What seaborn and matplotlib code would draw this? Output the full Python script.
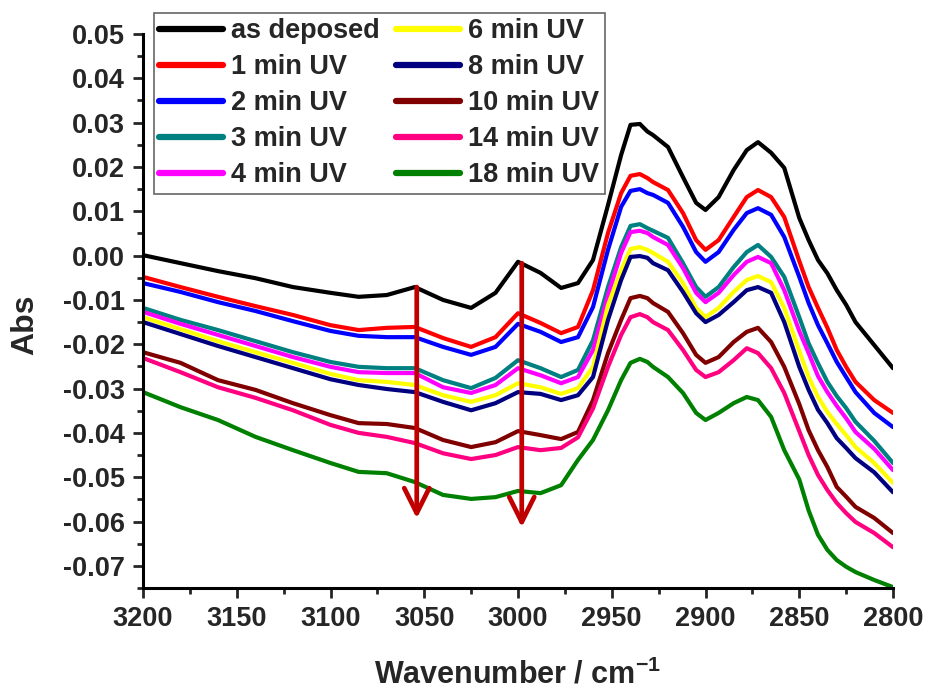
import matplotlib
matplotlib.use("Agg")
import matplotlib.pyplot as plt
import seaborn as sns
import pandas as pd
from matplotlib.ticker import MultipleLocator, FormatStrFormatter

wavenumber = [3200, 3180, 3160, 3140, 3120, 3100, 3085, 3070, 3055, 3040, 3025, 3012, 3000,
              2988, 2977, 2968, 2960, 2952, 2945, 2940, 2935, 2931, 2928, 2920, 2912, 2905,
              2900, 2893, 2885, 2878, 2872, 2865, 2858, 2850, 2845, 2840, 2835, 2830, 2825,
              2820, 2810, 2800]

as_deposed = [0.0001, -0.0017, -0.0035, -0.0051, -0.0071, -0.0084, -0.0093, -0.0089, -0.0071, -0.0100,
              -0.0118, -0.0084, -0.0014, -0.0039, -0.0073, -0.0062, -0.0010, 0.0114, 0.0227, 0.0295,
              0.0297, 0.0280, 0.0272, 0.0245, 0.0177, 0.0119, 0.0103, 0.0132, 0.0193, 0.0238,
              0.0256, 0.0232, 0.0198, 0.0085, 0.0035, -0.0010, -0.0040, -0.0078, -0.0111, -0.0150,
              -0.0202, -0.0254]
uv_1 = [-0.0048, -0.0071, -0.0093, -0.0114, -0.0134, -0.0157, -0.0168, -0.0163, -0.0161, -0.0186,
        -0.0206, -0.0184, -0.0130, -0.0152, -0.0175, -0.0161, -0.0078, 0.0051, 0.0141, 0.0180,
        0.0184, 0.0175, 0.0166, 0.0148, 0.0096, 0.0035, 0.0013, 0.0035, 0.0087, 0.0132,
        0.0148, 0.0132, 0.0087, -0.0012, -0.0071, -0.0118, -0.0163, -0.0213, -0.0251, -0.0285,
        -0.0326, -0.0355]
uv_2 = [-0.0062, -0.0082, -0.0105, -0.0125, -0.0148, -0.0170, -0.0181, -0.0184, -0.0184, -0.0206,
        -0.0224, -0.0206, -0.0154, -0.0172, -0.0195, -0.0184, -0.0116, 0.0013, 0.0110, 0.0146,
        0.0150, 0.0141, 0.0137, 0.0119, 0.0065, 0.0008, -0.0014, 0.0008, 0.0058, 0.0096,
        0.0107, 0.0092, 0.0042, -0.0048, -0.0107, -0.0157, -0.0198, -0.0240, -0.0274, -0.0308,
        -0.0355, -0.0387]
uv_3 = [-0.0118, -0.0145, -0.0168, -0.0193, -0.0218, -0.0240, -0.0251, -0.0254, -0.0254, -0.0281,
        -0.0299, -0.0276, -0.0236, -0.0254, -0.0274, -0.0258, -0.0191, -0.0071, 0.0019, 0.0067,
        0.0071, 0.0062, 0.0056, 0.0040, -0.0017, -0.0071, -0.0093, -0.0071, -0.0026, 0.0008,
        0.0024, -0.0003, -0.0048, -0.0139, -0.0198, -0.0243, -0.0285, -0.0317, -0.0344, -0.0375,
        -0.0418, -0.0468]
uv_4 = [-0.0127, -0.0154, -0.0179, -0.0204, -0.0229, -0.0251, -0.0263, -0.0265, -0.0265, -0.0297,
        -0.0310, -0.0292, -0.0254, -0.0270, -0.0288, -0.0274, -0.0213, -0.0089, 0.0006, 0.0053,
        0.0056, 0.0051, 0.0042, 0.0024, -0.0028, -0.0084, -0.0105, -0.0084, -0.0044, -0.0014,
        -0.0003, -0.0017, -0.0078, -0.0170, -0.0220, -0.0272, -0.0308, -0.0339, -0.0367, -0.0398,
        -0.0436, -0.0484]
uv_6 = [-0.0139, -0.0166, -0.0193, -0.0218, -0.0242, -0.0267, -0.0281, -0.0285, -0.0292, -0.0315,
        -0.0330, -0.0315, -0.0288, -0.0297, -0.0312, -0.0299, -0.0251, -0.0112, -0.0033, 0.0015,
        0.0019, 0.0013, 0.0006, -0.0014, -0.0062, -0.0118, -0.0139, -0.0118, -0.0082, -0.0055,
        -0.0046, -0.0060, -0.0118, -0.0215, -0.0274, -0.0319, -0.0353, -0.0380, -0.0405, -0.0432,
        -0.0468, -0.0513]
uv_8 = [-0.0150, -0.0177, -0.0204, -0.0229, -0.0254, -0.0279, -0.0292, -0.0301, -0.0308, -0.0330,
        -0.0349, -0.0333, -0.0308, -0.0312, -0.0326, -0.0315, -0.0274, -0.0145, -0.0055, -0.0003,
        -0.0001, -0.0005, -0.0017, -0.0033, -0.0082, -0.0130, -0.0150, -0.0134, -0.0105, -0.0078,
        -0.0071, -0.0084, -0.0150, -0.0251, -0.0303, -0.0348, -0.0378, -0.0412, -0.0434, -0.0457,
        -0.0489, -0.0534]
uv_10 = [-0.0218, -0.0242, -0.0281, -0.0303, -0.0333, -0.0360, -0.0378, -0.0380, -0.0389, -0.0416,
         -0.0432, -0.0421, -0.0396, -0.0405, -0.0414, -0.0398, -0.0326, -0.0220, -0.0145, -0.0096,
         -0.0091, -0.0096, -0.0107, -0.0127, -0.0175, -0.0224, -0.0242, -0.0229, -0.0195, -0.0172,
         -0.0163, -0.0195, -0.0251, -0.0335, -0.0394, -0.0439, -0.0477, -0.0522, -0.0544, -0.0567,
         -0.0592, -0.0626]
uv_14 = [-0.0231, -0.0263, -0.0297, -0.0321, -0.0349, -0.0382, -0.0400, -0.0409, -0.0423, -0.0446,
         -0.0459, -0.0450, -0.0432, -0.0439, -0.0434, -0.0410, -0.0345, -0.0251, -0.0179, -0.0139,
         -0.0132, -0.0139, -0.0150, -0.0168, -0.0213, -0.0258, -0.0274, -0.0263, -0.0236, -0.0209,
         -0.0220, -0.0254, -0.0310, -0.0396, -0.0450, -0.0495, -0.0529, -0.0558, -0.0581, -0.0601,
         -0.0626, -0.0658]
uv_18 = [-0.0308, -0.0342, -0.0371, -0.0409, -0.0439, -0.0468, -0.0488, -0.0491, -0.0511, -0.0540,
         -0.0549, -0.0545, -0.0531, -0.0536, -0.0518, -0.0461, -0.0416, -0.0349, -0.0281, -0.0242,
         -0.0233, -0.0240, -0.0251, -0.0274, -0.0310, -0.0355, -0.0371, -0.0355, -0.0333, -0.0319,
         -0.0326, -0.0364, -0.0439, -0.0505, -0.0575, -0.0630, -0.0664, -0.0687, -0.0702, -0.0714,
         -0.0732, -0.0748]

labels = ["as deposed", "1 min UV", "2 min UV", "3 min UV", "4 min UV",
          "6 min UV", "8 min UV", "10 min UV", "14 min UV", "18 min UV"]
series = [as_deposed, uv_1, uv_2, uv_3, uv_4, uv_6, uv_8, uv_10, uv_14, uv_18]
colors = ["#000000", "#FF0000", "#0000FF", "#008080", "#FF00FF",
          "#FFFF00", "#000080", "#800000", "#FF0080", "#008000"]

arrow_x = [3054, 2998]
arrow_top = [-0.0071, -0.0017]
arrow_tip = [-0.0593, -0.0613]

rows = []
for lab, vals in zip(labels, series):
    for w, v in zip(wavenumber, vals):
        rows.append({"wn": w, "abs": v, "sample": lab})
df = pd.DataFrame(rows)

sns.set_style("ticks")
plt.rcParams["font.family"] = ["Liberation Sans", "DejaVu Sans"]
plt.rcParams["font.weight"] = "bold"
plt.rcParams["axes.unicode_minus"] = False
plt.rcParams["mathtext.fontset"] = "custom"
plt.rcParams["mathtext.rm"] = "Liberation Sans:bold"
plt.rcParams["mathtext.default"] = "rm"

fig = plt.figure(figsize=(9.27, 6.92), dpi=100)
ax = fig.add_axes([143 / 927, 104 / 692, 750 / 927, 554 / 692])

sns.lineplot(data=df, x="wn", y="abs", hue="sample", hue_order=labels,
             palette=dict(zip(labels, colors)), linewidth=3.0, sort=False,
             estimator=None, ax=ax, legend=True)
for ln in ax.get_lines():
    ln.set_solid_joinstyle("round")
    ln.set_solid_capstyle("round")

for x, y0, y1 in zip(arrow_x, arrow_top, arrow_tip):
    ax.annotate("", xy=(x, y1), xytext=(x, y0),
                arrowprops=dict(arrowstyle="->,head_length=0.9,head_width=0.45",
                                color="#C00000", lw=3.4, mutation_scale=20,
                                shrinkA=0, shrinkB=0), zorder=5)

ax.set_xlim(3200, 2800)
ax.set_ylim(-0.075, 0.05)
ax.xaxis.set_major_locator(MultipleLocator(50))
ax.xaxis.set_minor_locator(MultipleLocator(25))
ax.yaxis.set_major_locator(MultipleLocator(0.01))
ax.yaxis.set_minor_locator(MultipleLocator(0.005))
ax.yaxis.set_major_formatter(FormatStrFormatter("%.2f"))
ax.xaxis.set_major_formatter(FormatStrFormatter("%d"))

for s in ["top", "right"]:
    ax.spines[s].set_visible(False)
for s in ["left", "bottom"]:
    ax.spines[s].set_linewidth(2.2)
    ax.spines[s].set_color("black")

ax.tick_params(which="major", direction="out", length=7, width=2.0, labelsize=19.5, pad=6)
ax.tick_params(which="minor", direction="out", length=4.5, width=2.0)
for lab in ax.get_xticklabels() + ax.get_yticklabels():
    lab.set_fontweight("bold")

ax.set_xlabel(r"Wavenumber / cm$^{-1}$", fontsize=22, fontweight="bold")
ax.set_ylabel("Abs", fontsize=23, fontweight="bold")
ax.xaxis.set_label_coords(0.5, -0.128)
ax.yaxis.set_label_coords(-0.137, 0.475)

handles, _ = ax.get_legend_handles_labels()
leg = ax.legend(handles, labels, ncol=2, loc="upper left",
                bbox_to_anchor=(0.0147, 1.038), borderaxespad=0,
                frameon=True, fancybox=False, edgecolor="#404040",
                prop={"weight": "bold", "size": 19.5},
                handlelength=2.35, handletextpad=0.3, labelspacing=0.37,
                columnspacing=0.6, borderpad=0.2)
leg.get_frame().set_linewidth(1.2)
for h in leg.get_lines():
    h.set_linewidth(4.5)

fig.savefig("out.png", dpi=100)
